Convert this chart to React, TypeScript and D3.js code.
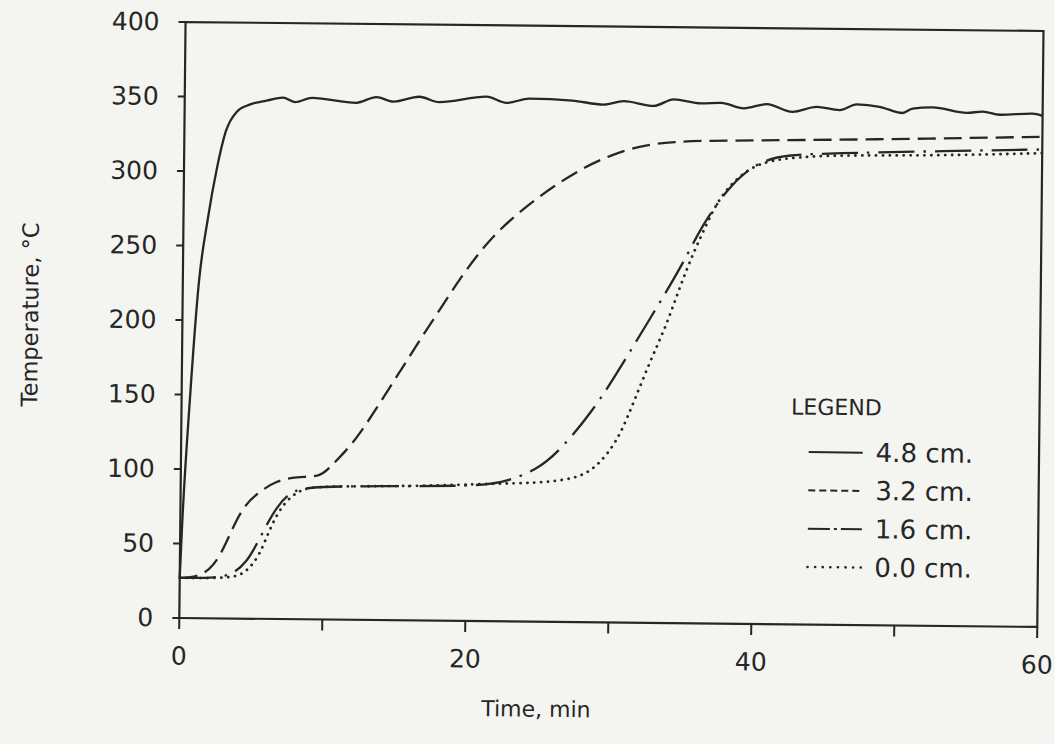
import React, { useEffect, useRef } from 'react';
import * as d3 from 'd3';

// readings from the figure (time in min, temperature in °C)
const time48 = [0, 0.12, 0.6, 1.13, 1.7, 2.3, 2.9, 3.64, 4.54, 5.8, 6.87, 7.7, 8.9, 12.0, 13.4, 14.6, 16.4, 17.8, 21.1, 22.5, 24.1, 27.1, 29.3, 30.7, 32.8, 34.2, 36.1, 37.5, 39.1, 40.7, 42.5, 44.2, 45.8, 47.0, 48.6, 50.2, 50.9, 52.3, 54.7, 55.8, 57.0, 59.3, 60];
const temp48 = [27, 60, 150, 226, 268, 302, 327, 340, 345, 348, 350, 347, 350, 347, 351, 348, 351.5, 348, 352, 348, 351, 350, 347.5, 350, 347, 351.5, 349, 349.5, 346, 349, 344, 347.5, 345.5, 349.5, 348, 344, 347, 348, 344.5, 345.5, 343.5, 344.5, 343];

const time32 = [0, 0.95, 2.1, 2.92, 3.6, 4.39, 5.32, 6.7, 8.1, 9.73, 10.2, 11.6, 12.5, 13.9, 15.25, 16.6, 18.0, 19.4, 20.75, 22.1, 24.0, 25.8, 27.9, 29.9, 32.2, 34.4, 36.0, 43.0, 52.3, 60];
const temp32 = [27, 27, 32, 44, 59.5, 75, 84, 93, 95.5, 96, 100, 114, 125, 146, 167, 188, 209, 230, 248, 263, 279, 292, 305, 314, 321, 323, 324, 325, 327, 329];

const time16 = [0, 2.6, 3.74, 4.67, 5.36, 6.03, 6.73, 7.65, 9.04, 16.5, 21.2, 22.8, 24.9, 26.5, 28.8, 30.4, 32.0, 33.8, 35.2, 36.35, 37.97, 39.35, 40.7, 42.1, 45.4, 52.4, 60];
const temp16 = [27, 27, 30, 38, 50, 63, 75, 85.5, 89.5, 90, 91, 94, 102, 115, 142.5, 167, 193, 222, 246, 268.5, 291, 304.5, 311.5, 315, 316.5, 318.5, 320.5];

const time00 = [0, 3.75, 4.68, 5.6, 6.27, 7.19, 8.34, 9.5, 16.5, 22.1, 24.7, 27.7, 29.1, 30.45, 31.4, 32.7, 33.9, 34.8, 35.7, 36.6, 37.5, 38.9, 40.3, 42.1, 45.4, 52.4, 60];
const temp00 = [27, 26.8, 31.5, 43, 61, 78, 87, 89.5, 90, 92.5, 93, 96, 104.5, 121, 142.5, 175, 201, 227, 249, 268.5, 286.5, 301.5, 309.5, 313, 315.3, 315.5, 318];

const seriesNames = ['4.8 cm.', '3.2 cm.', '1.6 cm.', '0.0 cm.'];
const yTicks = [0, 50, 100, 150, 200, 250, 300, 350, 400];
const xTicks = [0, 10, 20, 30, 40, 50, 60];
const xLabels = [0, 20, 40, 60];

const W = 1055;
const H = 744;
const INK = '#262626';
const FONT = 'DejaVu Sans, sans-serif';

const App = () => {
  const svgRef = useRef(null);

  useEffect(() => {
    const svg = d3.select(svgRef.current);
    svg.selectAll('*').remove();

    const left = 182.4, right = 1040.4, top = 26.5, bottom = 622.5;
    const x = d3.scaleLinear().domain([0, 60]).range([left, right]);
    const y = d3.scaleLinear().domain([0, 400]).range([bottom, top]);

    svg.append('rect').attr('width', W).attr('height', H).attr('fill', '#f4f4f1');

    // the scanned page is tilted slightly
    const g = svg.append('g').attr('transform', `rotate(0.6, ${(left + right) / 2}, ${(top + bottom) / 2})`);

    // frame
    g.append('rect')
      .attr('x', left).attr('y', top)
      .attr('width', right - left).attr('height', bottom - top)
      .attr('fill', 'none').attr('stroke', INK).attr('stroke-width', 2.2);

    // y ticks + labels
    yTicks.forEach(v => {
      g.append('line')
        .attr('x1', left - 7).attr('x2', left)
        .attr('y1', y(v)).attr('y2', y(v))
        .attr('stroke', INK).attr('stroke-width', 2);
      g.append('text')
        .attr('x', left - 26).attr('y', y(v))
        .attr('text-anchor', 'end').attr('dominant-baseline', 'central')
        .attr('font-family', FONT).attr('font-size', 25).attr('fill', INK)
        .text(v);
    });

    // x ticks + labels
    xTicks.forEach(v => {
      g.append('line')
        .attr('x1', x(v)).attr('x2', x(v))
        .attr('y1', bottom).attr('y2', bottom + 11)
        .attr('stroke', INK).attr('stroke-width', 2);
    });
    xLabels.forEach(v => {
      g.append('text')
        .attr('x', x(v)).attr('y', bottom + 38)
        .attr('text-anchor', 'middle').attr('dominant-baseline', 'central')
        .attr('font-family', FONT).attr('font-size', 25).attr('fill', INK)
        .text(v);
    });

    // axis titles
    g.append('text')
      .attr('transform', `translate(30, ${(top + bottom) / 2 - 4}) rotate(-90)`)
      .attr('text-anchor', 'middle').attr('dominant-baseline', 'central')
      .attr('font-family', FONT).attr('font-size', 22.5).attr('fill', INK)
      .text('Temperature, °C');
    g.append('text')
      .attr('x', 540).attr('y', 710)
      .attr('text-anchor', 'middle').attr('dominant-baseline', 'central')
      .attr('font-family', FONT).attr('font-size', 22).attr('fill', INK)
      .text('Time, min');

    const steep = d3.line().x(d => x(d[0])).y(d => y(d[1])).curve(d3.curveMonotoneX);
    const smooth = d3.line().x(d => x(d[0])).y(d => y(d[1])).curve(d3.curveBasis);
    const series = [
      { t: time48, v: temp48, dash: null, w: 2.3, gen: steep },
      { t: time32, v: temp32, dash: '18,8', w: 2.3, gen: smooth },
      { t: time16, v: temp16, dash: '36,9,2.5,9', w: 2.3, gen: smooth },
      { t: time00, v: temp00, dash: '0.1,6.8', w: 2.8, gen: smooth },
    ];
    series.forEach(s => {
      const path = g.append('path')
        .attr('d', s.gen(s.t.map((t, i) => [t, s.v[i]])))
        .attr('fill', 'none').attr('stroke', INK)
        .attr('stroke-width', s.w)
        .attr('stroke-linecap', s.dash === '0.1,6.8' ? 'round' : 'butt');
      if (s.dash) path.attr('stroke-dasharray', s.dash);
    });

    // legend
    const lg = g.append('g');
    lg.append('text')
      .attr('x', 792).attr('y', 405)
      .attr('dominant-baseline', 'central')
      .attr('font-family', FONT).attr('font-size', 22).attr('fill', INK)
      .text('LEGEND');
    const legendDash = [null, '7,4', '22,4,3,4', '0.1,7.5'];
    seriesNames.forEach((name, i) => {
      const ly = 450 + i * 38.3;
      const l = lg.append('line')
        .attr('x1', 810).attr('x2', 864)
        .attr('y1', ly).attr('y2', ly)
        .attr('stroke', INK).attr('stroke-width', i === 3 ? 2.6 : 2)
        .attr('stroke-linecap', i === 3 ? 'round' : 'butt');
      if (legendDash[i]) l.attr('stroke-dasharray', legendDash[i]);
      lg.append('text')
        .attr('x', 877).attr('y', ly)
        .attr('dominant-baseline', 'central')
        .attr('font-family', FONT).attr('font-size', 26).attr('fill', INK)
        .text(name);
    });
  }, []);

  return (
    <svg ref={svgRef} width={W} height={H} style={{ position: 'absolute', left: 0, top: 0 }}></svg>
  );
};

export default App;
